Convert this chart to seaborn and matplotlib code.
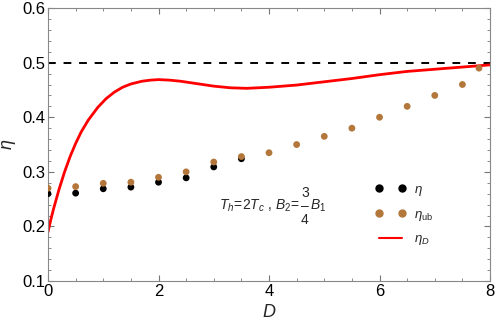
import seaborn as sns
import matplotlib.pyplot as plt
from matplotlib.ticker import MultipleLocator
from matplotlib.lines import Line2D

# points
d_eta = [0, 0.5, 1, 1.5, 2, 2.5, 3, 3.5]
eta = [0.260, 0.261, 0.269, 0.272, 0.281, 0.289, 0.309, 0.324]

d_ub = [0, 0.5, 1, 1.5, 2, 2.5, 3, 3.5, 4, 4.5, 5, 5.5, 6, 6.5, 7, 7.5, 7.8]
eta_ub = [0.270, 0.273, 0.279, 0.281, 0.290, 0.300, 0.318, 0.328, 0.335,
          0.350, 0.365, 0.380, 0.400, 0.420, 0.440, 0.460, 0.490]

d_curve = [0, 0.05, 0.1, 0.2, 0.3, 0.4, 0.5, 0.6, 0.73, 0.9, 1.05, 1.2, 1.35,
           1.5, 1.7, 1.85, 2.0, 2.2, 2.4, 2.6, 2.8, 3.0, 3.3, 3.6, 4.0, 4.5,
           5.0, 5.5, 6.0, 6.5, 7.0, 7.5, 8.0]
eta_d = [0.190, 0.212, 0.232, 0.268, 0.300, 0.328, 0.352, 0.373, 0.395, 0.418,
         0.434, 0.446, 0.455, 0.461, 0.466, 0.468, 0.469, 0.468, 0.466, 0.463,
         0.460, 0.457, 0.454, 0.453, 0.455, 0.459, 0.465, 0.471, 0.478, 0.484,
         0.488, 0.492, 0.496]

sns.set_style("ticks")
plt.rcParams['font.family'] = ['Liberation Sans', 'DejaVu Sans']
plt.rcParams['mathtext.fontset'] = 'custom'
plt.rcParams['mathtext.rm'] = 'Liberation Sans'
plt.rcParams['mathtext.it'] = 'Liberation Sans:italic'

brown = '#b3773b'

fig = plt.figure(figsize=(4.98, 3.24), dpi=100)
ax = fig.add_axes([0.0964, 0.1327, 0.8876, 0.8423])

ax.axhline(0.5, color='black', lw=1.4, ls=(0, (4, 4)), zorder=1)
sns.lineplot(x=d_curve, y=eta_d, color='red', lw=2, ax=ax, zorder=2)
sns.scatterplot(x=d_eta, y=eta, color='black', s=24, edgecolor='none', ax=ax, zorder=3)
sns.scatterplot(x=d_ub, y=eta_ub, color=brown, s=24, edgecolor='none', ax=ax, zorder=4)

ax.set_xlim(0, 8)
ax.set_ylim(0.1, 0.6)
ax.xaxis.set_major_locator(MultipleLocator(2))
ax.xaxis.set_minor_locator(MultipleLocator(0.5))
ax.yaxis.set_major_locator(MultipleLocator(0.1))
ax.yaxis.set_minor_locator(MultipleLocator(0.02))
ax.tick_params(which='both', direction='in', top=True, right=True,
               colors='#777777', labelcolor='black', labelsize=12, pad=2)
ax.tick_params(which='major', length=4, width=0.8)
ax.tick_params(which='minor', length=2.5, width=0.6)
for sp in ax.spines.values():
    sp.set_color('#888888')
    sp.set_linewidth(0.8)

ax.set_xlabel('$D$', fontsize=13, labelpad=4)
ax.set_ylabel('$\\eta$', fontsize=13, labelpad=3)

# annotation with a stacked fraction 3/4
t1 = ax.text(3.095, 0.237, '$T_h\\!=\\!2T_c$ , $B_2\\!=\\!$', fontsize=10,
             ha='left', va='center')
kw = dict(xycoords=t1, xy=(1, 0.5), textcoords='offset points', fontsize=10,
          va='center', ha='center')
ax.annotate('3', xytext=(3.6, 9.5), **kw)
ax.annotate('\u2013', xytext=(3.6, 0.5), **kw)
ax.annotate('4', xytext=(3.6, -10), **kw)
kw['ha'] = 'left'
ax.annotate('$B_1$', xytext=(7, 0), **kw)

handles = [
    Line2D([], [], ls='none', marker='o', color='black', markersize=5),
    Line2D([], [], ls='none', marker='o', color=brown, markersize=5),
    Line2D([], [], color='red', lw=1.5),
]
leg = ax.legend(handles, ['$\\eta$', '$\\eta_{\\rm ub}$', '$\\eta_D$'],
                loc='center left', bbox_to_anchor=(0.712, 0.24), frameon=False,
                numpoints=2, handlelength=2.4, handletextpad=0.6,
                labelspacing=0.8, fontsize=9.5)

fig.savefig('out.png', dpi=100)
